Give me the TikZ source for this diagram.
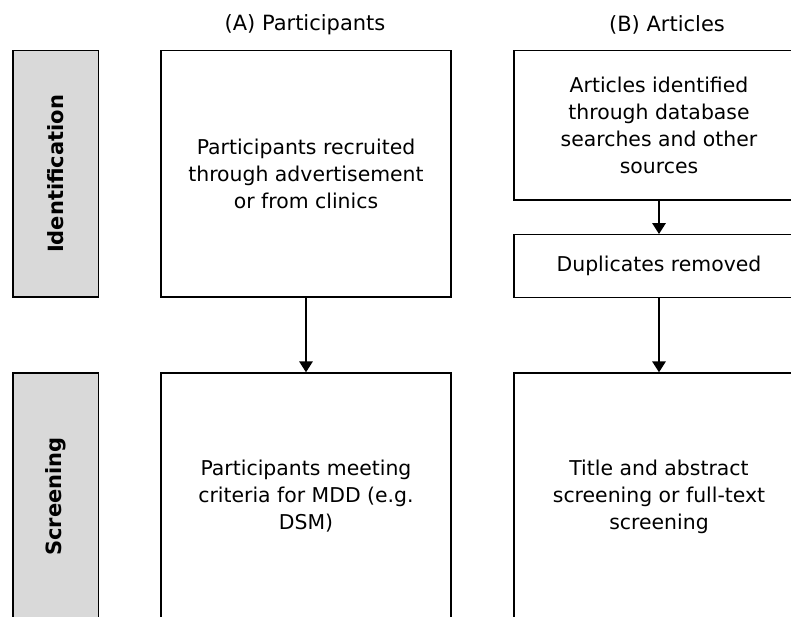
\documentclass[tikz,border=0pt]{standalone}
\usepackage{fontspec}
\setmainfont{DejaVu Sans}
\usetikzlibrary{arrows.meta}
\tikzset{
  box/.style={draw=black, line width=1.2pt, fill=white, align=center, inner sep=0pt,
    font=\fontsize{20.4}{27}\selectfont},
  stage/.style={draw=black, line width=1.2pt, fill=gray!30, rotate=90, inner sep=0pt,
    minimum height=85.3pt, font=\fontsize{21}{24}\selectfont\bfseries},
  ttl/.style={font=\fontsize{21}{24}\selectfont, inner sep=0pt},
  flow/.style={line width=2.8pt, -{Triangle[length=11pt,width=13pt]}}
}
\begin{document}
\begin{tikzpicture}[x=1pt,y=-1pt]
\useasboundingbox (0,0) rectangle (791,616);
\clip (0,0) rectangle (791,616);
\fill[white] (0,0) rectangle (791,616);

\node[ttl] (tA) at (305,25) {(A) Participants};
\node[ttl] (tB) at (667,25) {(B) Articles};

\node[stage, minimum width=246.3pt] (sid) at (55.7,173.9) {Identification};
\node[stage, minimum width=247pt] (ssc) at (55.7,496.5) {Screening};

\node[box, minimum width=290pt, minimum height=246.3pt] (a1) at (306,173.9)
  {Participants recruited\\through advertisement\\or from clinics};
\node[box, minimum width=290pt, minimum height=247pt] (a2) at (306,496.5)
  {Participants meeting\\criteria for MDD (e.g.\\DSM)};

\node[box, minimum width=290pt, minimum height=149.3pt] (b1) at (659,125.3)
  {Articles identified\\through database\\searches and other\\sources};
\node[box, minimum width=290pt, minimum height=62.6pt] (b2) at (659,266)
  {Duplicates removed};
\node[box, minimum width=290pt, minimum height=247pt] (b3) at (659,496.5)
  {Title and abstract\\screening or full-text\\screening};

\draw[flow] (a1) -- (a2);
\draw[flow] (b1) -- (b2);
\draw[flow] (b2) -- (b3);
\end{tikzpicture}
\end{document}
